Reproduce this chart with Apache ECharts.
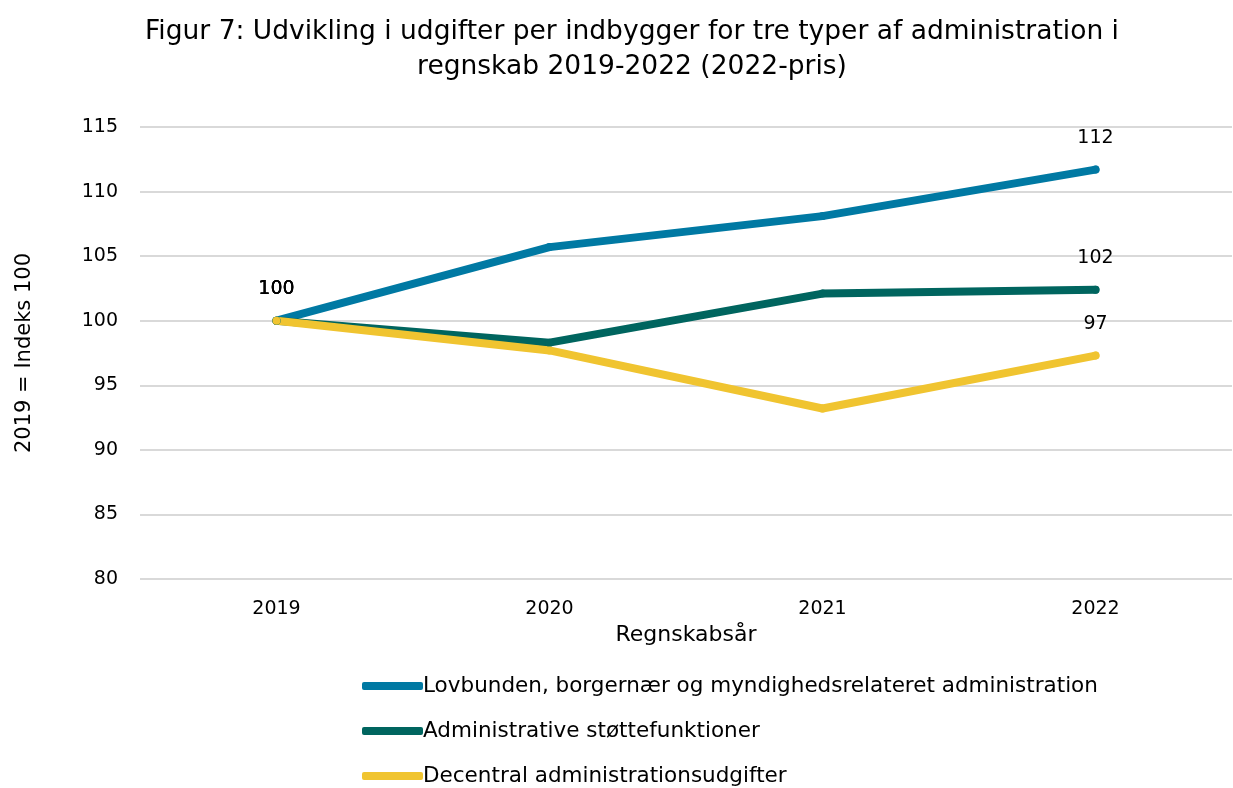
<!DOCTYPE html>
<html>
<head>
<meta charset="utf-8">
<script src="https://cdn.jsdelivr.net/npm/echarts@6/dist/echarts.min.js"></script>
<style>
  html, body { margin: 0; padding: 0; background: #fff; }
  #chart { width: 1233px; height: 788px; }
</style>
</head>
<body>
<div id="chart"></div>
<script>
// data
var years = ['2019', '2020', '2021', '2022'];
var lovbunden = [100, 105.7, 108.1, 111.7];
var stotte = [100, 98.3, 102.1, 102.4];
var decentral = [100, 97.7, 93.2, 97.3];
var seriesNames = [
    'Lovbunden, borgernær og myndighedsrelateret administration',
    'Administrative støttefunktioner',
    'Decentral administrationsudgifter'
];
var colors = ['#0079a3', '#00655f', '#f0c430'];

var font = 'DejaVu Sans';

function makeSeries(name, data, color) {
    return {
        name: name,
        type: 'line',
        data: data,
        symbol: 'circle',
        symbolSize: 8,
        showAllSymbol: true,
        lineStyle: { color: color, width: 8, cap: 'round', join: 'round' },
        itemStyle: { color: color },
        label: {
            show: true,
            position: 'top',
            distance: 18,
            color: '#000',
            fontFamily: font,
            fontSize: 19,
            formatter: function (p) {
                // only first and last point are labelled
                if (p.dataIndex === 0 || p.dataIndex === data.length - 1) {
                    return Math.round(p.value);
                }
                return '';
            }
        }
    };
}

var chart = echarts.init(document.getElementById('chart'));
var option = {
    animation: false,
    title: {
        text: 'Figur 7: Udvikling i udgifter per indbygger for tre typer af administration i\nregnskab 2019-2022 (2022-pris)',
        left: 627,
        textAlign: 'center',
        top: 10,
        textStyle: {
            fontFamily: font,
            fontSize: 26.5,
            fontWeight: 'normal',
            color: '#000',
            lineHeight: 35
        }
    },
    legend: {
        orient: 'vertical',
        left: 362,
        top: 675,
        padding: 0,
        itemWidth: 61,
        itemHeight: 8,
        itemGap: 23,
        icon: 'roundRect',
        data: seriesNames,
        textStyle: { fontFamily: font, fontSize: 21.5, lineHeight: 22, color: '#000', padding: [0, 0, 0, -5] }
    },
    grid: { left: 140, right: 1, top: 127, bottom: 209 },
    xAxis: {
        type: 'category',
        data: years,
        boundaryGap: true,
        name: 'Regnskabsår',
        nameLocation: 'middle',
        nameGap: 44,
        nameTextStyle: { fontFamily: font, fontSize: 22, color: '#000' },
        axisLine: { show: false },
        axisTick: { show: false },
        axisLabel: { fontFamily: font, fontSize: 19, color: '#000', margin: 21 }
    },
    yAxis: {
        type: 'value',
        min: 80,
        max: 115,
        interval: 5,
        name: '2019 = Indeks 100',
        nameLocation: 'middle',
        nameGap: 105,
        nameTextStyle: { fontFamily: font, fontSize: 21, color: '#000' },
        axisLine: { show: false },
        axisTick: { show: false },
        axisLabel: { fontFamily: font, fontSize: 19, color: '#000', margin: 22 },
        splitLine: { lineStyle: { color: '#d9d9d9', width: 2 } }
    },
    series: [
        makeSeries(seriesNames[0], lovbunden, colors[0]),
        makeSeries(seriesNames[1], stotte, colors[1]),
        makeSeries(seriesNames[2], decentral, colors[2])
    ]
};
chart.setOption(option);
</script>
</body>
</html>
